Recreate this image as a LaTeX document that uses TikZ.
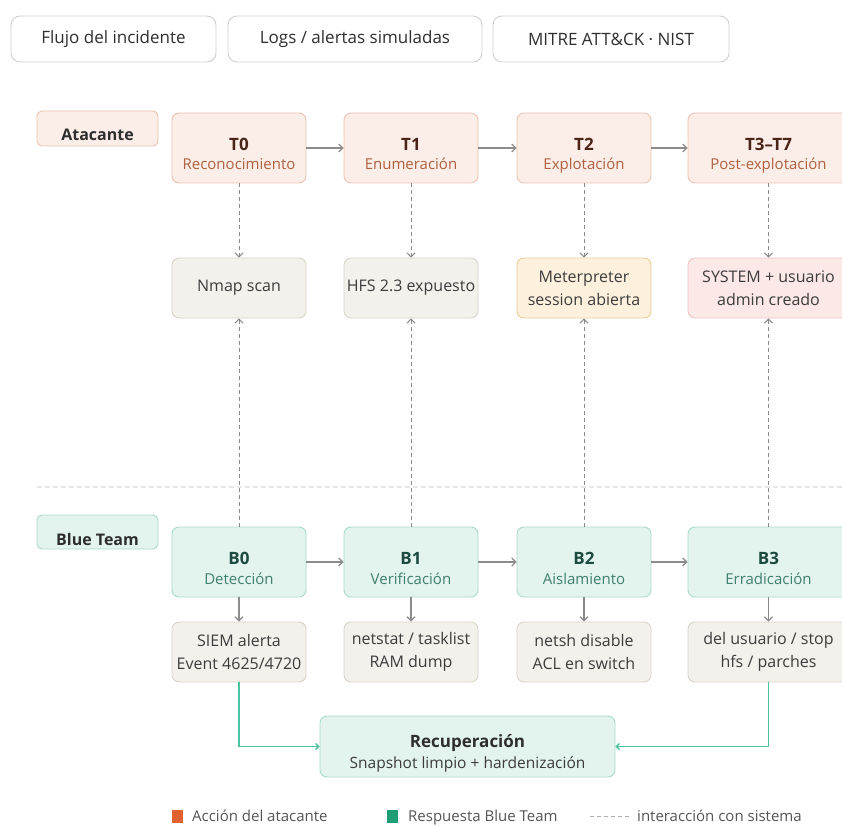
\documentclass[tikz,border=0pt]{standalone}
\usepackage{fontspec}
\setmainfont{Open Sans}
\usetikzlibrary{arrows.meta}
\definecolor{tabline}{HTML}{CFCFCF}
\definecolor{txt}{HTML}{2E2E2E}
\definecolor{atkfill}{HTML}{FBEDE7}
\definecolor{atkline}{HTML}{ECC2B2}
\definecolor{atktitle}{HTML}{4A2418}
\definecolor{atksub}{HTML}{B0603F}
\definecolor{sysfill}{HTML}{F3F1EC}
\definecolor{sysline}{HTML}{D9D4CA}
\definecolor{systxt}{HTML}{3C3C3C}
\definecolor{metfill}{HTML}{FDF1DE}
\definecolor{metline}{HTML}{EACB97}
\definecolor{redfill}{HTML}{FBE8E7}
\definecolor{redline}{HTML}{EDC5C3}
\definecolor{bluefill}{HTML}{E3F4EE}
\definecolor{blueline}{HTML}{A8DACB}
\definecolor{bluetitle}{HTML}{1D4A40}
\definecolor{bluesub}{HTML}{3F7F6E}
\definecolor{grn}{HTML}{4CC3A0}
\definecolor{agray}{HTML}{8C8C8C}
\definecolor{legor}{HTML}{E0622E}
\definecolor{leggr}{HTML}{1F9E75}
\definecolor{sepc}{HTML}{E6E6E6}
\definecolor{legtxt}{HTML}{555555}
\tikzset{
  box/.style={rounded corners=7pt, line width=0.9pt, inner sep=0pt},
  tab/.style={box, draw=tabline, fill=white, rounded corners=9pt, minimum height=46pt,
    font=\fontsize{17}{20}\selectfont, text=txt},
  lane/.style={box, rounded corners=5pt, minimum width=121pt},
  lanetxt/.style={anchor=base, font=\bfseries\fontsize{16}{20}\selectfont, text=txt},
  atkbox/.style={box, draw=atkline, fill=atkfill, minimum height=70pt},
  bluebox/.style={box, draw=blueline, fill=bluefill, minimum height=70pt},
  sysbox/.style={box, draw=sysline, fill=sysfill, minimum height=60pt, align=center,
    font=\fontsize{16}{23}\selectfont, text=systxt},
  atkt/.style={anchor=base, font=\bfseries\fontsize{17}{20}\selectfont, text=atktitle},
  atks/.style={anchor=base, font=\fontsize{15}{20}\selectfont, text=atksub},
  bluet/.style={anchor=base, font=\bfseries\fontsize{17}{20}\selectfont, text=bluetitle},
  blues/.style={anchor=base, font=\fontsize{15}{20}\selectfont, text=bluesub},
  flow/.style={draw=agray, line width=1.2pt, -{Straight Barb[length=4pt,width=8pt]}},
  sysline/.style={draw=agray, line width=1pt, dash pattern=on 4pt off 3pt,
    -{Straight Barb[length=4pt,width=8pt]}},
  gline/.style={draw=grn, line width=1.3pt, -{Straight Barb[length=3pt,width=6pt]}},
  legtext/.style={anchor=base west, font=\fontsize{15}{20}\selectfont, text=legtxt, inner sep=0pt}
}
\begin{document}
\begin{tikzpicture}[x=1pt,y=-1pt]
\clip (0,0) rectangle (842,826);
\fill[white] (0,0) rectangle (842,826);

% tabs
\node[tab, minimum width=205pt] (tab1) at (113.5,39) {Flujo del incidente};
\node[tab, minimum width=254pt] (tab2) at (355,39) {Logs / alertas simuladas};
\node[tab, minimum width=236pt] (tab3) at (611,39) {MITRE ATT\&CK · NIST};

% separator
\draw[sepc, line width=1.2pt, dash pattern=on 5pt off 3pt] (37,487) -- (842,487);

% lane labels
\node[lane, draw=atkline, fill=atkfill, minimum height=35pt] (latk) at (97.5,128.5) {};
\node[lanetxt] (latkt) at (97.5,141) {Atacante};
\node[lane, draw=blueline, fill=bluefill, minimum height=34pt] (lblue) at (97.5,532) {};
\node[lanetxt] (lbluet) at (97.5,545) {Blue Team};

% attacker row
\node[atkbox, minimum width=134pt] (t0) at (239,148) {};
\node[atkbox, minimum width=134pt] (t1) at (411,148) {};
\node[atkbox, minimum width=134pt] (t2) at (584,148) {};
\node[atkbox, minimum width=161pt] (t3) at (768.5,148) {};
\node[atkt] (t0a) at (239,151) {T0};
\node[atks] (t0b) at (239,170) {Reconocimiento};
\node[atkt] (t1a) at (411,151) {T1};
\node[atks] (t1b) at (411,170) {Enumeración};
\node[atkt] (t2a) at (584,151) {T2};
\node[atks] (t2b) at (584,170) {Explotación};
\node[atkt] (t3a) at (768.5,151) {T3–T7};
\node[atks] (t3b) at (768.5,170) {Post-explotación};

% system row
\node[sysbox, minimum width=134pt] (s0) at (239,288) {Nmap scan};
\node[sysbox, minimum width=134pt] (s1) at (411,288) {HFS 2.3 expuesto};
\node[sysbox, minimum width=134pt, draw=metline, fill=metfill] (s2) at (584,288) {Meterpreter\\session abierta};
\node[sysbox, minimum width=161pt, draw=redline, fill=redfill] (s3) at (768.5,288) {SYSTEM + usuario\\admin creado};

% blue row
\node[bluebox, minimum width=134pt] (b0) at (239,562) {};
\node[bluebox, minimum width=134pt] (b1) at (411,562) {};
\node[bluebox, minimum width=134pt] (b2) at (584,562) {};
\node[bluebox, minimum width=161pt] (b3) at (768.5,562) {};
\node[bluet] (b0a) at (239,564) {B0};
\node[blues] (b0b) at (239,584) {Detección};
\node[bluet] (b1a) at (411,564) {B1};
\node[blues] (b1b) at (411,584) {Verificación};
\node[bluet] (b2a) at (584,564) {B2};
\node[blues] (b2b) at (584,584) {Aislamiento};
\node[bluet] (b3a) at (768.5,564) {B3};
\node[blues] (b3b) at (768.5,584) {Erradicación};

% action row
\node[sysbox, minimum width=134pt] (a0) at (239,652) {SIEM alerta\\Event 4625/4720};
\node[sysbox, minimum width=134pt] (a1) at (411,652) {netstat / tasklist\\RAM dump};
\node[sysbox, minimum width=134pt] (a2) at (584,652) {netsh disable\\ACL en switch};
\node[sysbox, minimum width=161pt] (a3) at (768.5,652) {del usuario / stop\\hfs / parches};

% recovery
\node[box, draw=blueline, fill=bluefill, minimum width=295pt, minimum height=61pt] (rec) at (467.5,746.5) {};
\node[anchor=base, font=\bfseries\fontsize{17}{20}\selectfont, text=txt] (reca) at (467.5,747) {Recuperación};
\node[anchor=base, font=\fontsize{15.5}{20}\selectfont, text=systxt] (recb) at (467.5,768) {Snapshot limpio + hardenización};

% flows
\draw[flow] (t0.east) -- (t1.west);
\draw[flow] (t1.east) -- (t2.west);
\draw[flow] (t2.east) -- (t3.west);
\draw[flow] (b0.east) -- (b1.west);
\draw[flow] (b1.east) -- (b2.west);
\draw[flow] (b2.east) -- (b3.west);
\foreach \i in {0,1,2,3}{
  \draw[sysline] (t\i.south) -- (s\i.north);
  \draw[sysline] (b\i.north) -- (s\i.south);
  \draw[flow] (b\i.south) -- (a\i.north);
}
\draw[gline] (a0.south) |- (rec.west);
\draw[gline] (a3.south) |- (rec.east);

% legend
\node[fill=legor, minimum width=11pt, minimum height=13pt, inner sep=0pt] (lg1) at (177.5,816) {};
\node[legtext] (lg1t) at (192,821) {Acción del atacante};
\node[fill=leggr, minimum width=11pt, minimum height=13pt, inner sep=0pt] (lg2) at (392.5,816) {};
\node[legtext] (lg2t) at (408,821) {Respuesta Blue Team};
\coordinate (lg3a) at (590,816);
\coordinate (lg3b) at (630,816);
\draw[draw=agray!70, line width=1pt, dash pattern=on 4pt off 3pt] (lg3a) -- (lg3b);
\node[legtext] (lg3t) at (637,821) {interacción con sistema};
\end{tikzpicture}
\end{document}
